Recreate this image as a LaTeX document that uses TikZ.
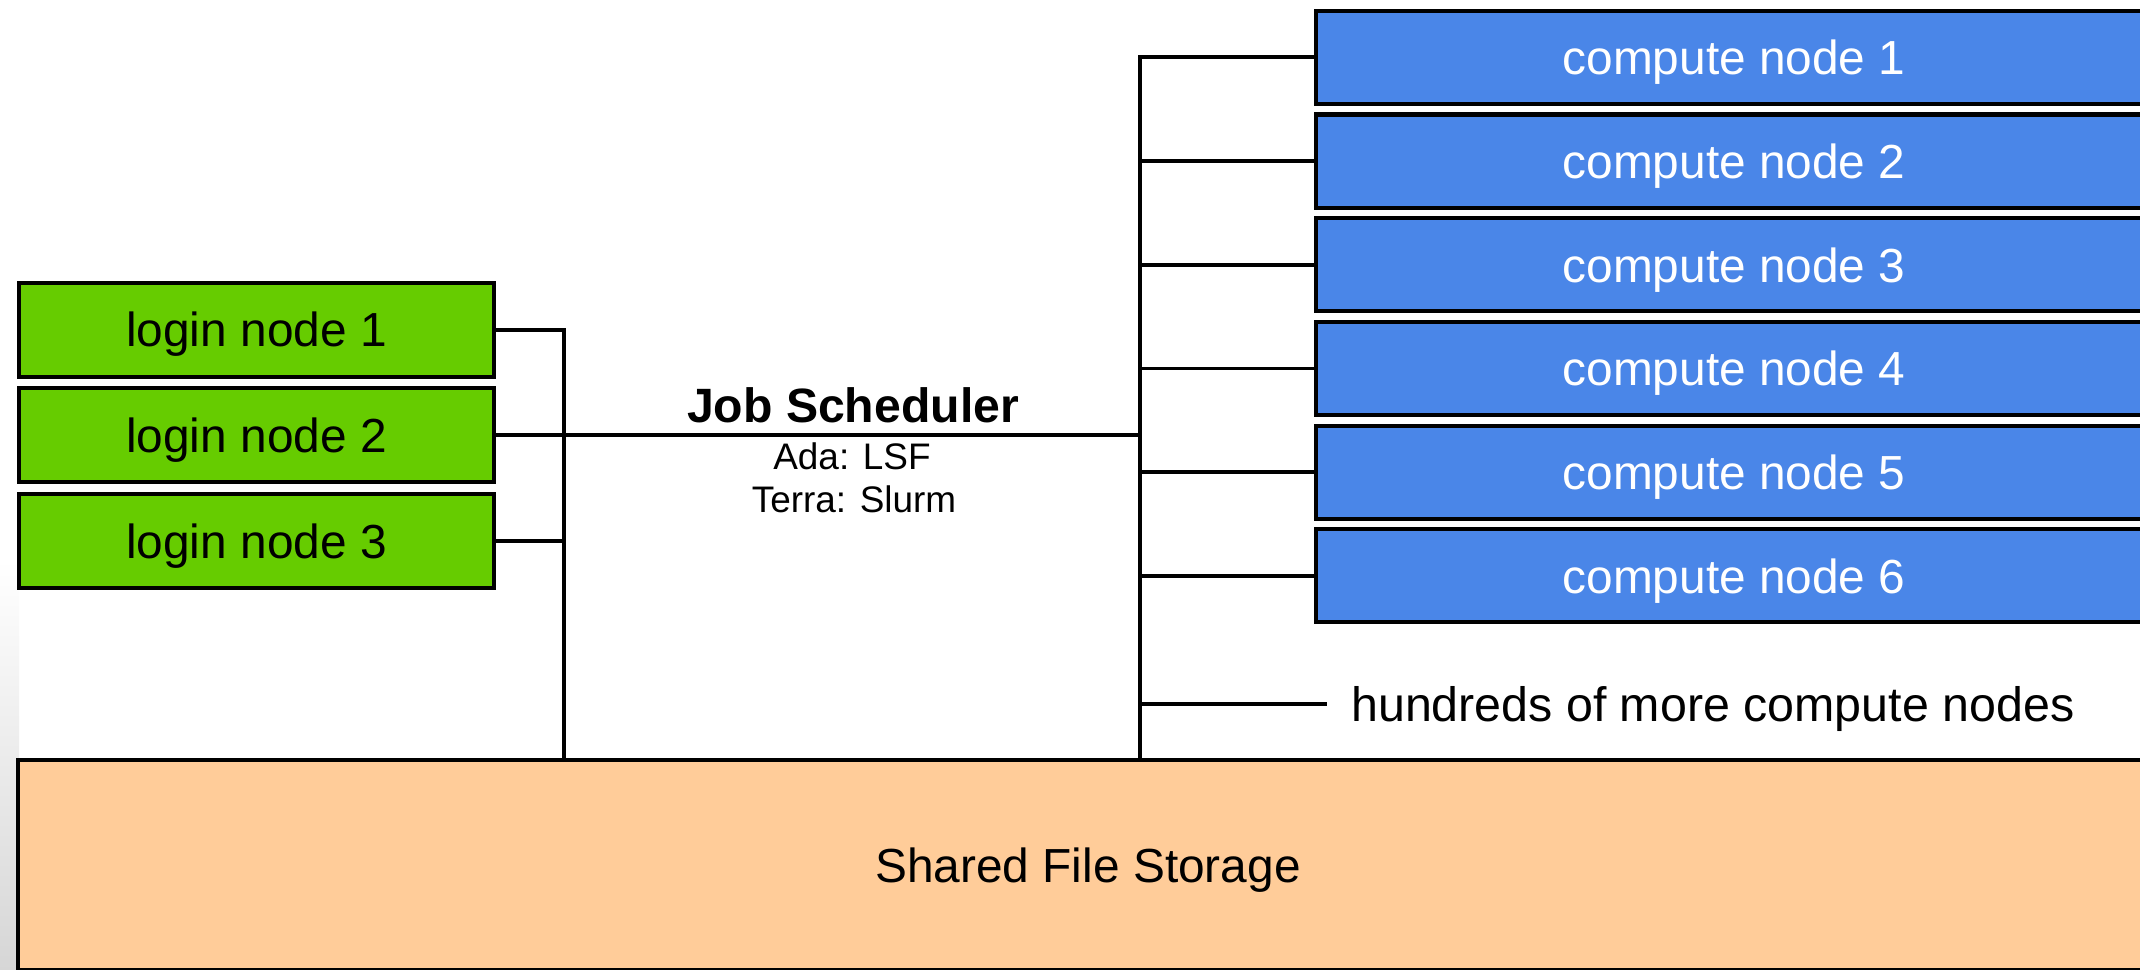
\documentclass[tikz,border=0pt]{standalone}
\usepackage{fontspec}
\setmainfont{Liberation Sans}
\definecolor{logingreen}{HTML}{66CC00}
\definecolor{computeblue}{HTML}{4A86E8}
\definecolor{storagepeach}{HTML}{FFCC99}
\begin{document}
\begin{tikzpicture}[x=0.01cm,y=-0.01cm,
  base/.style={font=\fontsize{13.6}{16}\selectfont},
  box/.style={base,draw=black,line width=1.15pt,rectangle,inner sep=0pt,text depth=0pt},
  loginbox/.style={box,fill=logingreen,text=black,minimum width=4.75cm,minimum height=0.94cm},
  computebox/.style={box,fill=computeblue,text=white,minimum width=8.35cm,minimum height=0.93cm},
  storebox/.style={box,fill=storagepeach,text=black,minimum width=21.38cm,minimum height=2.1cm},
  wire/.style={line width=1.1pt,black}]
\useasboundingbox (0,0) rectangle (2140,969);
\clip (0,0) rectangle (2140,969);
\fill[white] (0,0) rectangle (2140,969);
% soft grey fade along the lower left edge
\shade[top color=white,bottom color=black!16] (0,560) rectangle (19,969);

% bus positions
\coordinate (lb) at (564,0);
\coordinate (rb) at (1140,0);

% shared storage
\node[storebox] (st) at (1088,865) {Shared File Storage};

% login nodes
\node[loginbox] (l1) at (256.5,329.6) {login node 1};
\node[loginbox] (l2) at (256.5,434.7) {login node 2};
\node[loginbox] (l3) at (256.5,541) {login node 3};

% compute nodes
\node[computebox] (c1) at (1734,57.3) {compute node 1};
\node[computebox] (c2) at (1734,161) {compute node 2};
\node[computebox] (c3) at (1734,264.8) {compute node 3};
\node[computebox] (c4) at (1734,368.5) {compute node 4};
\node[computebox] (c5) at (1734,472.2) {compute node 5};
\node[computebox] (c6) at (1734,575.9) {compute node 6};

\node[font=\fontsize{13.75}{16}\selectfont,anchor=west,inner xsep=6.8pt,inner ysep=0pt,text depth=0pt] (more) at (1326.6,704.2) {hundreds of more compute nodes};

% scheduler labels
\node[font=\fontsize{13.7}{16}\selectfont\bfseries,inner sep=0pt] (js) at (853,405) {Job Scheduler};
\node[font=\fontsize{10.5}{12}\selectfont,inner sep=0pt] (ada) at (852,456) {Ada: LSF};
\node[font=\fontsize{10.5}{12}\selectfont,inner sep=0pt] (terra) at (854,499.5) {Terra: Slurm};

% login side bus
\draw[wire] (l1.east) -| (st.north -| lb);
\draw[wire] (l2.east) -- (l2.east -| rb);
\draw[wire] (l3.east) -- (l3.east -| lb);

% compute side bus
\draw[wire] (c1.west) -| (st.north -| rb);
\draw[wire] (c2.west) -- (c2.west -| rb);
\draw[wire] (c3.west) -- (c3.west -| rb);
\draw[wire] (c4.west) -- (c4.west -| rb);
\draw[wire] (c5.west) -- (c5.west -| rb);
\draw[wire] (c6.west) -- (c6.west -| rb);
\draw[wire] (more.west -| rb) -- (more.west);
\end{tikzpicture}
\end{document}
